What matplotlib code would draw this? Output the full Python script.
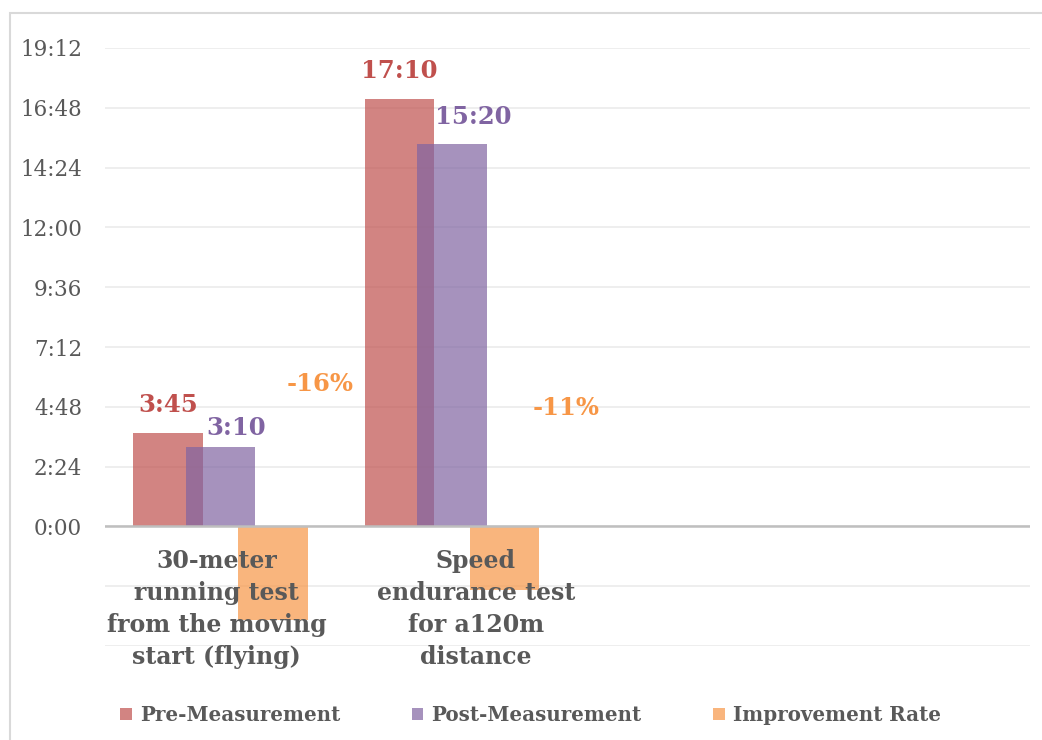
import matplotlib
matplotlib.use('Agg')
import matplotlib.pyplot as plt
from matplotlib.ticker import FuncFormatter, MultipleLocator
from matplotlib.patches import Rectangle

plt.rcParams['font.family'] = ['DejaVu Serif']

# data (times in seconds, shown as m:ss)
categories = ['30-meter\nrunning test\nfrom the moving\nstart (flying)',
              'Speed\nendurance test\nfor a120m\ndistance']
pre_sec = [225, 1030]
post_sec = [190, 920]
pre_labels = ['3:45', '17:10']
post_labels = ['3:10', '15:20']
improvement = [-0.156, -0.107]
improvement_labels = ['-16%', '-11%']
series_names = ['Pre-Measurement', 'Post-Measurement', 'Improvement Rate']

RED = '#C0504D'
PURPLE = '#8064A2'
ORANGE = '#F79646'
GREY = '#595959'

fig = plt.figure(figsize=(10.42, 7.40), dpi=100)
ax = fig.add_axes([105/1042, 1 - 646/740, 925/1042, 598/740])
ax2 = ax.twinx()

x = list(range(len(categories)))
width = 0.30
shift = 0.227

pre_bars = ax.bar([i - shift for i in x], pre_sec, width, color=RED, alpha=0.7, zorder=2)
post_bars = ax.bar(x, post_sec, width, color=PURPLE, alpha=0.7, zorder=2)
imp_bars = ax2.bar([i + shift for i in x], improvement, width, color=ORANGE, alpha=0.7, zorder=1)

ax.set_xlim(-0.5, 3.5)
ax.set_ylim(-288, 1152)
ax2.set_ylim(-0.2, 0.8)

ax.yaxis.set_major_locator(MultipleLocator(144))
ax.yaxis.set_major_formatter(FuncFormatter(
    lambda v, p: f"{int(round(v)) // 60}:{int(round(v)) % 60:02d}" if v >= 0 else ''))
ax.tick_params(axis='y', length=0, pad=16.5, labelsize=15.5, labelcolor=GREY)
ax.set_xticks([])
ax2.set_yticks([])
ax.grid(axis='y', color='#EBEBEB', lw=1.2)
ax.set_axisbelow(True)
for a in (ax, ax2):
    for s in a.spines.values():
        s.set_visible(False)
ax2.axhline(0, color='#BFBFBF', lw=1.8, zorder=3)

# value labels
for i in x:
    ax.annotate(pre_labels[i], xy=(i - shift, pre_sec[i]), xytext=(0, 28),
                textcoords='offset pixels', ha='center', va='center',
                fontsize=17.5, fontweight='bold', color=RED)
post_off = [(15, 19), (21, 27)]
for i in x:
    ax.annotate(post_labels[i], xy=(i, post_sec[i]), xytext=post_off[i],
                textcoords='offset pixels', ha='center', va='center',
                fontsize=17.5, fontweight='bold', color=PURPLE)
imp_off = [(47, 142), (62, 118)]
for i in x:
    ax2.annotate(improvement_labels[i], xy=(i + shift, 0), xytext=imp_off[i],
                 textcoords='offset pixels', ha='center', va='center',
                 fontsize=17.5, fontweight='bold', color=ORANGE)

# category labels drawn over the orange bars
cat_dx = [-4, 24]
for i in x:
    ax2.annotate(categories[i], xy=(i, 0), xytext=(cat_dx[i], -23),
                 textcoords='offset pixels', ha='center', va='top',
                 multialignment='center', linespacing=1.42,
                 fontsize=17, fontweight='bold', color=GREY)

fig.legend([pre_bars, post_bars, imp_bars], series_names, loc='center',
           bbox_to_anchor=(0.509, 0.034), ncol=3, frameon=False,
           prop={'size': 14.3, 'weight': 'bold'}, labelcolor=GREY,
           handlelength=0.6, handleheight=0.6, handletextpad=0.4,
           columnspacing=3.6)

fig.add_artist(Rectangle((10/1042, -0.1), 1.5, 1.1 - 13/740, transform=fig.transFigure,
                         fill=False, ec='#D9D9D9', lw=1.5))

fig.savefig('out.png', dpi=100)
